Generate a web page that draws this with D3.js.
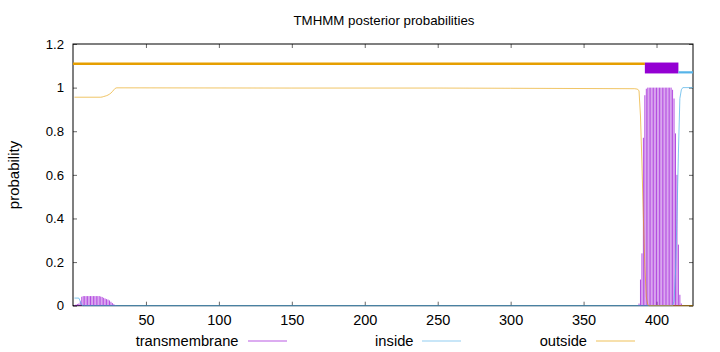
<!DOCTYPE html>
<html><head><meta charset="utf-8">
<script src="https://cdn.jsdelivr.net/npm/d3@7"></script>
<style>
html,body{margin:0;padding:0;background:#fff;}
svg{display:block;font-family:"Liberation Sans",Arial,sans-serif;}
</style></head>
<body><svg id="c" width="720" height="352"></svg>
<script>
// ---- data ----
const title = "TMHMM posterior probabilities";
const yLabel = "probability";
const xTicks = [50,100,150,200,250,300,350,400];
const yTicks = [0,0.2,0.4,0.6,0.8,1,1.2];
const yTickLabels = ["0","0.2","0.4","0.6","0.8","1","1.2"];
const seqLength = 425;

// topology bar (residue ranges)
const outsideSeg = [1,392];
const tmSeg = [392,415];
const insideSeg = [415,425];

// outside probability
const outsidePos = [1,19,20,21,22,23,24,25,26,27,28,29,30,150,250,300,385,387,388,389,390,391,392,393,394,395,425];
const outsideVal = [0.956,0.956,0.957,0.959,0.961,0.963,0.966,0.970,0.975,0.982,0.990,0.997,0.999,0.998,0.998,0.997,0.995,0.993,0.985,0.87,0.65,0.40,0.18,0.04,0.005,0,0];

// inside probability
const insidePos = [1,4,5,6,7,411,412,413,414,415,416,417,418,425];
const insideVal = [0.035,0.035,0.02,0.003,0,0,0.02,0.15,0.40,0.70,0.95,0.99,1,1];

// transmembrane probability (impulses, nonzero residues)
const tmPos = [1,2,3,4,5,6,7,8,9,10,11,12,13,14,15,16,17,18,19,20,21,22,23,24,25,26,27,28,29,30,
  388,389,390,391,392,393,394,395,396,397,398,399,400,401,402,403,404,405,406,407,408,409,410,411,412,413,414,415,416,417];
const tmVal = [0.003,0.005,0.008,0.01,0.02,0.041,0.044,0.044,0.044,0.044,0.044,0.044,0.044,0.044,0.044,0.044,0.044,0.044,0.042,0.040,0.036,0.033,0.030,0.028,0.024,0.018,0.012,0.007,0.003,0.001,
  0.01,0.12,0.24,0.77,0.965,0.995,1,1,1,1,1,1,1,1,1,1,1,1,1,1,1,1,1,0.99,0.95,0.79,0.60,0.28,0.05,0.01];

const legendNames = ["transmembrane","inside","outside"];

// ---- styles ----
const cPurple = "#9400d3", cBlue = "#56b4e9", cOrange = "#e69f00";
const FONT = "Liberation Sans, Arial, sans-serif";

const svg = d3.select("#c");
const L = 73, R = 693, T = 44, B = 305.7;
const x = d3.scaleLinear().domain([0, seqLength]).range([L, R]);
const y = d3.scaleLinear().domain([0, 1.2]).range([B, T]);

// title
svg.append("text").attr("x", 384).attr("y", 25).attr("text-anchor","middle")
  .attr("font-size", 13.3).text(title);
// y label
svg.append("text").attr("transform","translate(19,175) rotate(-90)")
  .attr("text-anchor","middle").attr("font-size",15).text(yLabel);

// border
svg.append("rect").attr("x",L).attr("y",T).attr("width",R-L).attr("height",B-T)
  .attr("fill","none").attr("stroke","#000").attr("stroke-width",1);

// axes (ticks inward, mirrored)
const gx = svg.append("g").attr("transform",`translate(0,${B})`)
  .call(d3.axisBottom(x).tickValues(xTicks).tickSize(-4).tickPadding(10).tickFormat(d3.format("d")));
const gxt = svg.append("g").attr("transform",`translate(0,${T})`)
  .call(d3.axisTop(x).tickValues(xTicks).tickSize(-4).tickFormat(""));
const gy = svg.append("g").attr("transform",`translate(${L},0)`)
  .call(d3.axisLeft(y).tickValues(yTicks).tickSize(-4).tickPadding(9).tickFormat((d,i)=>yTickLabels[i]));
const gyr = svg.append("g").attr("transform",`translate(${R},0)`)
  .call(d3.axisRight(y).tickValues(yTicks).tickSize(-4).tickFormat(""));
[gx,gxt,gy,gyr].forEach(g=>{
  g.select(".domain").remove();
  g.selectAll(".tick line").attr("stroke","#000").attr("stroke-width",0.6);
  g.selectAll("text").attr("font-size",13.2).attr("font-family",FONT).attr("fill","#000");
});
gx.selectAll("text").attr("font-size",14.5).attr("dy","0.62em");

// TM impulses
svg.append("g").selectAll("line").data(tmPos.map((p,i)=>[p,tmVal[i]])).join("line")
  .attr("x1", d=>x(d[0])).attr("x2", d=>x(d[0]))
  .attr("y1", y(0)).attr("y2", d=>y(d[1]))
  .attr("stroke", cPurple).attr("stroke-width", 1).attr("stroke-opacity", 0.7);

const line = d3.line().x(d=>x(d[0])).y(d=>y(d[1]));
svg.append("path").datum(insidePos.map((p,i)=>[p,insideVal[i]]))
  .attr("d", line).attr("fill","none").attr("stroke",cBlue).attr("stroke-width",1).attr("stroke-opacity",0.75);
svg.append("path").datum(outsidePos.map((p,i)=>[p,outsideVal[i]]))
  .attr("d", line).attr("fill","none").attr("stroke",cOrange).attr("stroke-width",1).attr("stroke-opacity",0.6);

// topology bar
svg.append("line").attr("x1", x(outsideSeg[0])-1.5).attr("x2", x(outsideSeg[1]))
  .attr("y1", y(1.11)).attr("y2", y(1.11)).attr("stroke", cOrange).attr("stroke-width", 2.5);
svg.append("rect").attr("x", x(tmSeg[0])).attr("width", x(tmSeg[1])-x(tmSeg[0]))
  .attr("y", y(1.115)).attr("height", y(1.065)-y(1.115)).attr("fill", cPurple);
svg.append("line").attr("x1", x(insideSeg[0])).attr("x2", x(insideSeg[1]))
  .attr("y1", y(1.07)).attr("y2", y(1.07)).attr("stroke", cBlue).attr("stroke-width", 2.2);

// legend
const legY = 341;
const legItems = [
  {name: legendNames[0], color: cPurple, textEnd: 238.5, l0: 248, l1: 287},
  {name: legendNames[1], color: cBlue, textEnd: 413.5, l0: 422, l1: 461},
  {name: legendNames[2], color: cOrange, textEnd: 587, l0: 596, l1: 635}
];
const lg = svg.append("g");
legItems.forEach(it=>{
  lg.append("text").attr("x", it.textEnd).attr("y", legY+5).attr("text-anchor","end")
    .attr("font-size",14.7).text(it.name);
  lg.append("line").attr("x1", it.l0).attr("x2", it.l1).attr("y1", legY).attr("y2", legY)
    .attr("stroke", it.color).attr("stroke-width", 1).attr("stroke-opacity", 0.65);
});
</script></body></html>
